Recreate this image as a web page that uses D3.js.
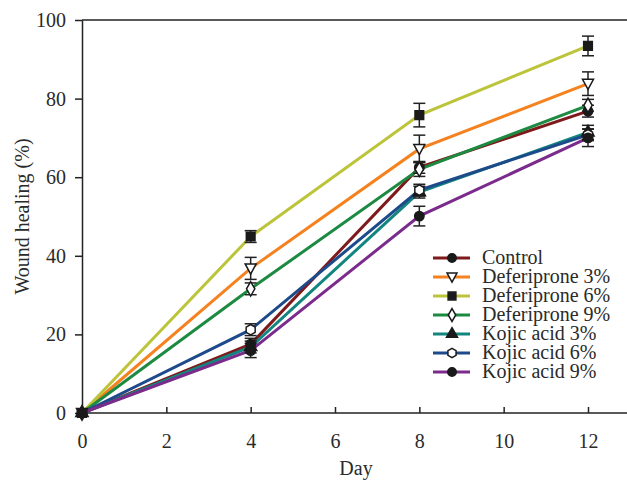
<!DOCTYPE html>
<html>
<head>
<meta charset="utf-8">
<script src="https://cdn.jsdelivr.net/npm/d3@7"></script>
<style>
  body { margin: 0; background: #fff; }
  text { font-family: "Liberation Serif", "DejaVu Serif", serif; fill: #2a2a2a; }
</style>
</head>
<body>
<svg id="chart" width="627" height="481"></svg>
<script>
// days on the x axis
const days = [0, 4, 8, 12]
const xTicks = [0, 2, 4, 6, 8, 10, 12]
const yTicks = [0, 20, 40, 60, 80, 100]

const seriesNames = ['Control', 'Deferiprone 3%', 'Deferiprone 6%', 'Deferiprone 9%',
  'Kojic acid 3%', 'Kojic acid 6%', 'Kojic acid 9%']

const control = [0, 17.5, 62.5, 76.8]
const def3 = [0, 36.8, 67.2, 83.8]
const def6 = [0, 44.9, 75.8, 93.4]
const def9 = [0, 31.6, 62.0, 78.3]
const kojic3 = [0, 16.8, 56.2, 71.4]
const kojic6 = [0, 21.2, 56.7, 70.8]
const kojic9 = [0, 15.9, 50.1, 70.0]

// error bar half widths
const controlErr = [0, 1.5, 1.5, 1.5]
const def3Err = [0, 2.8, 3.5, 3.0]
const def6Err = [0, 1.5, 3.0, 2.5]
const def9Err = [0, 1.5, 1.8, 1.5]
const kojic3Err = [0, 1.5, 1.5, 1.8]
const kojic6Err = [0, 1.5, 1.5, 1.5]
const kojic9Err = [0, 1.8, 2.5, 2.2]

const colors = ['#7e1a1c', '#f5821f', '#bcc43a', '#1d8a42', '#13857f', '#1d4a8a', '#7a2b8c']
const symbols = ['circle', 'triangleDown', 'square', 'diamond', 'triangle', 'hexagon', 'circle']
const filled = [true, false, true, false, true, false, true]

const values = [control, def3, def6, def9, kojic3, kojic6, kojic9]
const errors = [controlErr, def3Err, def6Err, def9Err, kojic3Err, kojic6Err, kojic9Err]

const series = seriesNames.map((name, i) => ({
  name,
  color: colors[i],
  symbol: symbols[i],
  filled: filled[i],
  points: days.map((d, j) => ({ day: d, v: values[i][j], e: errors[i][j] }))
}))

const svg = d3.select('#chart')

const x = d3.scaleLinear().domain([0, 12]).range([82, 588])
const y = d3.scaleLinear().domain([0, 100]).range([413, 20])

// frame: top line and axis lines
svg.append('line').attr('x1', 82).attr('x2', 627).attr('y1', y(100)).attr('y2', y(100))
  .attr('stroke', '#222').attr('stroke-width', 1.5)

const xAxis = svg.append('g').attr('transform', `translate(0,${y(0)})`)
  .call(d3.axisBottom(x).tickValues(xTicks).tickSize(-6).tickPadding(21).tickSizeOuter(0))
xAxis.select('.domain').attr('d', `M${x(0)},0H627`)
svg.append('g').attr('transform', `translate(${x(0)},0)`)
  .call(d3.axisLeft(y).tickValues(yTicks).tickSize(7).tickPadding(9).tickSizeOuter(0))

svg.selectAll('.domain').attr('stroke', '#222').attr('stroke-width', 1.5)
svg.selectAll('.tick line').attr('stroke', '#222').attr('stroke-width', 1.5)
svg.selectAll('.tick text').attr('font-size', 20)
  .attr('font-family', '"Liberation Serif", serif').attr('fill', '#2a2a2a')

svg.append('text').attr('x', 356).attr('y', 475).attr('text-anchor', 'middle')
  .attr('font-size', 20).text('Day')
svg.append('text').attr('transform', `translate(29,${y(50)}) rotate(-90)`)
  .attr('text-anchor', 'middle').attr('font-size', 20).text('Wound healing (%)')

const line = d3.line().x((d) => x(d.day)).y((d) => y(d.v))

const symbolMap = {
  circle: d3.symbolCircle,
  square: d3.symbolSquare,
  diamond: d3.symbolDiamond,
  triangle: d3.symbolTriangle
}

function markerPath(type, size) {
  const k = size / 10
  if (type === 'triangleDown') {
    const r = 5.5 * k
    return `M${-r},${-r * 0.8}L${r},${-r * 0.8}L0,${r * 1.05}Z`
  }
  if (type === 'hexagon') {
    const r = 5.2 * k
    return d3.range(6).map((j) => {
      const a = Math.PI / 6 + j * Math.PI / 3
      return (j ? 'L' : 'M') + (r * Math.cos(a)) + ',' + (r * Math.sin(a))
    }).join('') + 'Z'
  }
  const area = { circle: 70, square: 75, diamond: 60, triangle: 65 }[type] * k * k
  return d3.symbol().type(symbolMap[type]).size(area)()
}

// lines
svg.append('g').selectAll('path').data(series).join('path')
  .attr('fill', 'none').attr('stroke', (d) => d.color).attr('stroke-width', 3)
  .attr('d', (d) => line(d.points))

// error bars
series.forEach((s) => {
  const g = svg.append('g')
  s.points.filter((p) => p.e > 0).forEach((p) => {
    const cx = x(p.day)
    g.append('line').attr('x1', cx).attr('x2', cx).attr('y1', y(p.v - p.e)).attr('y2', y(p.v + p.e))
      .attr('stroke', '#222').attr('stroke-width', 1.5)
    ;[p.v - p.e, p.v + p.e].forEach((v) => {
      g.append('line').attr('x1', cx - 6).attr('x2', cx + 6).attr('y1', y(v)).attr('y2', y(v))
        .attr('stroke', '#222').attr('stroke-width', 1.5)
    })
  })
})

// markers
series.forEach((s) => {
  svg.append('g').selectAll('path').data(s.points).join('path')
    .attr('transform', (p) => `translate(${x(p.day)},${y(p.v)})`)
    .attr('d', markerPath(s.symbol, 10))
    .attr('fill', s.filled ? '#1a1a1a' : '#fff')
    .attr('stroke', '#1a1a1a').attr('stroke-width', 1.5)
})

// legend
const legend = svg.append('g').attr('transform', 'translate(433,258)')
const rows = legend.selectAll('g').data(series).join('g')
  .attr('transform', (d, i) => `translate(0,${i * 19})`)
rows.append('line').attr('x1', 0).attr('x2', 37).attr('y1', 0).attr('y2', 0)
  .attr('stroke', (d) => d.color).attr('stroke-width', 3)
rows.append('path').attr('transform', 'translate(19,0)')
  .attr('d', (d) => markerPath(d.symbol, 9))
  .attr('fill', (d) => (d.filled ? '#1a1a1a' : '#fff'))
  .attr('stroke', '#1a1a1a').attr('stroke-width', 1.5)
rows.append('text').attr('x', 49).attr('y', 6).attr('font-size', 20).text((d) => d.name)
</script>
</body>
</html>
